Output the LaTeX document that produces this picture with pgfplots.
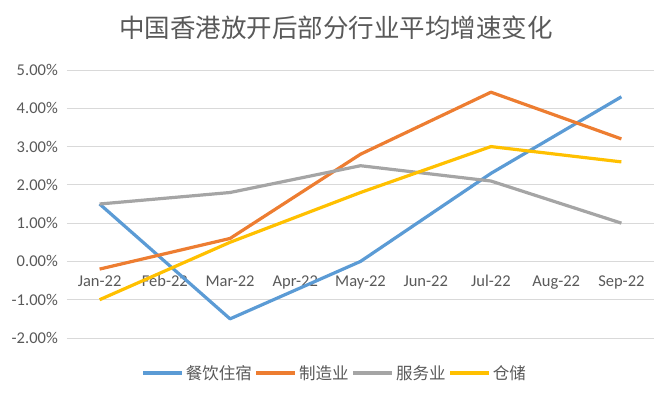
\documentclass[border=0pt]{standalone}
\usepackage{fontspec}
\setmainfont{Carlito}
\newfontfamily\cjk{Noto Sans CJK SC}
\usepackage{pgfplots}
\pgfplotsset{compat=1.18}
\definecolor{cblue}{HTML}{5B9BD5}
\definecolor{corange}{HTML}{ED7D31}
\definecolor{cgray}{HTML}{A5A5A5}
\definecolor{cgold}{HTML}{FFC000}
\definecolor{tgray}{HTML}{595959}
\definecolor{gridc}{HTML}{D9D9D9}
\begin{document}
\begin{tikzpicture}[x=1pt,y=1pt]
\path[use as bounding box] (0,0) rectangle (672,398);
\node[font=\cjk\fontsize{25.5}{30}\selectfont, text=tgray] at (336,370) {中国香港放开后部分行业平均增速变化};
\begin{axis}[
  at={(67pt,60pt)}, anchor=south west, scale only axis,
  width=587pt, height=268pt,
  xmin=-0.5, xmax=8.5, ymin=-2, ymax=5,
  axis line style={draw=none},
  ytick={-2,-1,0,1,2,3,4,5},
  yticklabels={-2.00\%,-1.00\%,0.00\%,1.00\%,2.00\%,3.00\%,4.00\%,5.00\%},
  xtick={0,1,2,3,4,5,6,7,8},
  xticklabels={Jan-22,Feb-22,Mar-22,Apr-22,May-22,Jun-22,Jul-22,Aug-22,Sep-22},
  major tick length=0pt,
  ymajorgrids, grid style={color=gridc, line width=0.8pt},
  tick label style={font=\fontsize{16.5}{20}\selectfont, text=tgray, inner sep=0pt},
  yticklabel style={anchor=east, xshift=-9pt},
  xticklabel style={anchor=base, yshift=51pt},
  legend columns=4,
  legend style={draw=none, fill=none, at={(axis description cs:0.456,-0.13)}, anchor=center,
    font=\cjk\fontsize{16.5}{20}\selectfont, text=tgray,
    /tikz/every even column/.append style={column sep=1pt},
    nodes={inner sep=2pt}},
  legend image code/.code={\draw[#1, line width=3.4pt] (0pt,0pt) -- (39pt,0pt);},
  every axis plot/.append style={line width=3.2pt, line join=round, mark=none},
]
\addplot[cblue] coordinates {(0,1.5) (2,-1.5) (4,0.0) (6,2.3) (8,4.3)};
\addlegendentry{餐饮住宿}
\addplot[corange] coordinates {(0,-0.2) (2,0.6) (4,2.8) (6,4.42) (8,3.2)};
\addlegendentry{制造业}
\addplot[cgray] coordinates {(0,1.5) (2,1.8) (4,2.5) (6,2.1) (8,1.0)};
\addlegendentry{服务业}
\addplot[cgold] coordinates {(0,-1.0) (2,0.5) (4,1.8) (6,3.0) (8,2.6)};
\addlegendentry{仓储}
\end{axis}
\end{tikzpicture}
\end{document}
